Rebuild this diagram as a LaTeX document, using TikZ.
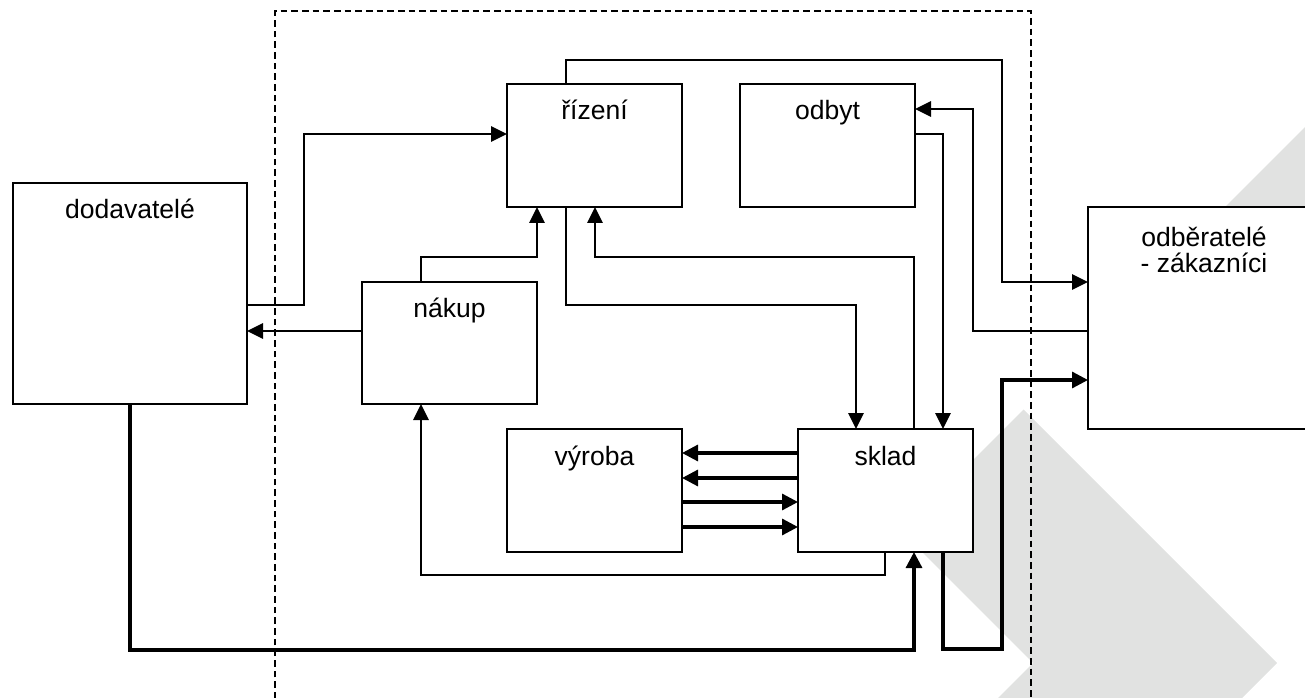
\documentclass[tikz,border=0pt]{standalone}
\usepackage{fontspec}
\setmainfont{Liberation Sans}
\usetikzlibrary{arrows.meta}
\definecolor{wmgray}{RGB}{225,226,225}
\begin{document}
\begin{tikzpicture}[x=0.75pt,y=-0.75pt,
  box/.style={draw,fill=white,line width=1.15pt,inner sep=0pt,outer sep=0pt,anchor=north west},
  lbl/.style={font=\fontsize{19.9pt}{24pt}\selectfont,inner sep=0pt,anchor=base},
  conn/.style={line width=1.4pt,-{Triangle[length=12pt,width=11.5pt]}},
  heavy/.style={line width=2.4pt,-{Triangle[length=12pt,width=12pt]}},
  frame/.style={line width=1.05pt,dash pattern=on 5pt off 3pt}]
\clip (0,0) rectangle (1305,698);
% watermark
\fill[wmgray] (1023.5,409.5) -- (1277,663) -- (1220,720) -- (976,720) -- (1033,663) -- (901.5,531.5) -- cycle;
\fill[wmgray] (1320,112) -- (1200,232) -- (1320,232) -- cycle;
% dashed frame
\draw[frame] (275,720) -- (275,11) -- (1031,11) -- (1031,720);
% boxes
\node[box,minimum width=175.5pt,minimum height=165.75pt] (dod) at (13,183) {};
\node[box,minimum width=131.25pt,minimum height=92.25pt] (riz) at (507,84) {};
\node[box,minimum width=131.25pt,minimum height=92.25pt] (odb) at (740,84) {};
\node[box,minimum width=131.25pt,minimum height=91.5pt] (nak) at (362,282) {};
\node[box,minimum width=131.25pt,minimum height=92.25pt] (vyr) at (507,429) {};
\node[box,minimum width=131.25pt,minimum height=92.25pt] (skl) at (798,429) {};
\node[box,minimum width=175.5pt,minimum height=166.5pt] (zak) at (1088,207) {};
% labels
\node[lbl] (dodt) at (130,219) {dodavatelé};
\node[lbl] (rizt) at (594.5,120) {řízení};
\node[lbl] (odbt) at (827.5,120) {odbyt};
\node[lbl] (nakt) at (449.5,317) {nákup};
\node[lbl] (vyrt) at (594.5,465) {výroba};
\node[lbl] (sklt) at (885.5,465) {sklad};
\node[lbl] (zakt1) at (1204,246.5) {odběratelé};
\node[lbl] (zakt2) at (1204,273) {- zákazníci};
% connectors
\draw[conn] (dod.east |- 0,305) -- (304,305) -- (304,134) -- (riz.west |- 0,134);
\draw[conn] (nak.west |- 0,331) -- (dod.east |- 0,331);
\draw[conn] (nak.north -| 421,0) -- (421,257) -- (537,257) -- (riz.south -| 537,0);
\draw[conn] (skl.north -| 914,0) -- (914,257) -- (595,257) -- (riz.south -| 595,0);
\draw[conn] (riz.south -| 566,0) -- (566,305) -- (856,305) -- (skl.north -| 856,0);
\draw[conn] (riz.north -| 566,0) -- (566,60) -- (1002,60) -- (1002,282) -- (zak.west |- 0,282);
\draw[conn] (zak.west |- 0,331) -- (973,331) -- (973,109) -- (odb.east |- 0,109);
\draw[conn] (odb.east |- 0,134) -- (943,134) -- (skl.north -| 943,0);
\draw[conn] (skl.south -| 885,0) -- (885,575) -- (421,575) -- (nak.south -| 421,0);
\draw[heavy] (skl.south -| 943,0) -- (943,649) -- (1002,649) -- (1002,380) -- (zak.west |- 0,380);
\draw[heavy] (dod.south -| 130,0) -- (130,650) -- (914,650) -- (skl.south -| 914,0);
\draw[heavy] (skl.west |- 0,453) -- (vyr.east |- 0,453);
\draw[heavy] (skl.west |- 0,478) -- (vyr.east |- 0,478);
\draw[heavy] (vyr.east |- 0,502) -- (skl.west |- 0,502);
\draw[heavy] (vyr.east |- 0,527) -- (skl.west |- 0,527);
\end{tikzpicture}
\end{document}
